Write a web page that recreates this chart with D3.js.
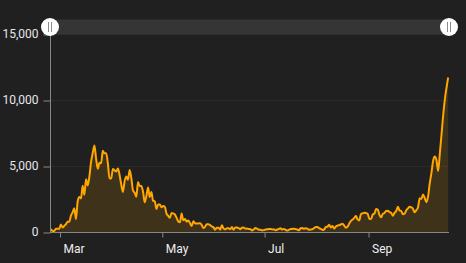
<!DOCTYPE html>
<html>
<head>
<meta charset="utf-8">
<script src="https://cdn.jsdelivr.net/npm/d3@7"></script>
<style>
  html, body { margin: 0; padding: 0; background: #202020; }
  svg { display: block; }
</style>
</head>
<body>
<svg id="chart" width="466" height="263"></svg>
<script>
// ---- data ----
const startDate = "2020-02-24";
const dailyCases = [
  221, 93, 78, 250, 238, 240,
  566, 342, 466, 587, 769, 778, 1247, 1492, 1797, 977, 2313, 2651, 2547, 3497, 2823, 4000,
  3526, 4207, 5322, 5986, 6557, 5560, 4789, 5249, 5210, 6153, 5959, 5974, 5217, 4050, 4053,
  4782, 4668, 4585, 4805, 4316, 3599, 3039, 3836, 4204, 3951, 4694, 4092, 3153, 2972, 2667,
  3786, 3493, 3491, 3047, 2256, 2729, 3370, 2646, 3021, 2357, 2324, 1739, 2091, 2086, 1872,
  1965, 1900, 1389, 1221, 1075, 1444, 1401, 1327, 1083, 802, 744, 1402, 888, 992, 789, 875,
  675, 451, 813, 665, 642, 652, 669, 531, 300, 397, 584, 593, 516, 416, 355,
  178, 318, 321, 177, 518, 270, 197, 280, 283, 202, 379, 163, 346, 338, 301, 210, 329, 333,
  251, 262, 224, 218, 122, 190, 296, 259, 175, 174, 126, 142,
  187, 201, 223, 235, 192, 208, 138, 193, 229, 276, 188, 234, 169, 114, 162, 230, 233, 249,
  218, 190, 129, 282, 306, 252, 275, 255, 170, 181, 212, 289, 386,
  379, 295, 239, 159, 190, 384, 402, 552, 347, 463, 259, 412, 481, 523, 574, 629, 479, 320,
  403, 642, 845, 947, 1071, 1210, 953, 876, 1367, 1411, 1460, 1444, 1365,
  996, 978, 1326, 1397, 1733, 1695, 1297, 1108, 1370, 1434, 1597, 1616, 1501, 1458, 1229,
  1452, 1585, 1907, 1638, 1587, 1350, 1392, 1640, 1786, 1912, 1869, 1766, 1494, 1648, 1851,
  2548, 2499, 2844, 2578, 2257, 2677, 3678, 4458, 5372, 5724, 5456, 4619, 5901, 7332, 8804,
  10010, 10925, 11705
];
const yTickValues = [0, 5000, 10000, 15000];
const xTickDates = ["2020-03-01", "2020-05-01", "2020-07-01", "2020-09-01"];
const yMax = 15000;

// ---- build ----
const parse = d3.timeParse("%Y-%m-%d");
const start = parse(startDate);
const data = dailyCases.map((v, i) => ({
  date: d3.timeHour.offset(d3.timeDay.offset(start, i), 12),
  value: v
}));

const svg = d3.select("#chart");
const plotLeft = 50, plotRight = 449, plotTop = 34, plotBottom = 232;

const x = d3.scaleTime()
  .domain([start, d3.timeDay.offset(start, dailyCases.length)])
  .range([plotLeft, plotRight]);
const y = d3.scaleLinear().domain([0, yMax]).range([plotBottom, plotTop]);

const fontFamily = "Roboto, 'Open Sans', sans-serif";

// grid
svg.append("g")
  .selectAll("line")
  .data(yTickValues.filter(d => d > 0))
  .join("line")
  .attr("x1", plotLeft).attr("x2", plotRight)
  .attr("y1", d => y(d) + 0.5).attr("y2", d => y(d) + 0.5)
  .attr("stroke", "#ffffff").attr("stroke-opacity", 0.05);

// area + line
const area = d3.area()
  .x(d => x(d.date))
  .y0(y(0))
  .y1(d => y(d.value))
  .curve(d3.curveMonotoneX);
const line = d3.line()
  .x(d => x(d.date))
  .y(d => y(d.value))
  .curve(d3.curveMonotoneX);

svg.append("path").datum(data)
  .attr("d", area)
  .attr("fill", "#ffa500").attr("fill-opacity", 0.14);
svg.append("path").datum(data)
  .attr("d", line)
  .attr("fill", "none")
  .attr("stroke", "#ffa600")
  .attr("stroke-width", 2)
  .attr("stroke-linejoin", "round");

// y axis
const yAxis = d3.axisLeft(y)
  .tickValues(yTickValues)
  .tickSize(7)
  .tickPadding(5)
  .tickFormat(d3.format(","));
const gy = svg.append("g")
  .attr("transform", `translate(${plotLeft + 0.5},0)`)
  .call(yAxis);
gy.select(".domain").remove();
gy.selectAll(".tick line").attr("stroke", "#888888").attr("transform", "translate(0,0.5)");
gy.selectAll("text")
  .attr("fill", "#e4e8ee")
  .style("font-family", fontFamily)
  .style("font-size", "12px");
svg.append("line")
  .attr("x1", plotLeft + 0.5).attr("x2", plotLeft + 0.5)
  .attr("y1", plotTop).attr("y2", plotBottom)
  .attr("stroke", "#888888");

// x axis
const xAxis = d3.axisBottom(x)
  .tickValues(xTickDates.map(parse))
  .tickSize(5)
  .tickPadding(7)
  .tickFormat(d3.timeFormat("%b"));
const gx = svg.append("g")
  .attr("transform", `translate(0,${plotBottom + 0.5})`)
  .call(xAxis);
gx.select(".domain").remove();
gx.selectAll(".tick line").attr("stroke", "#888888");
gx.selectAll("text")
  .attr("fill", "#eeeeee")
  .attr("text-anchor", "start")
  .attr("dx", 3)
  .style("font-family", fontFamily)
  .style("font-size", "12px");
svg.append("line")
  .attr("x1", plotLeft).attr("x2", plotRight)
  .attr("y1", plotBottom + 0.5).attr("y2", plotBottom + 0.5)
  .attr("stroke", "#888888");

// scrollbar
const sbY = 27;
svg.append("rect")
  .attr("x", plotLeft).attr("y", sbY - 7.5)
  .attr("width", plotRight - plotLeft).attr("height", 15)
  .attr("fill", "#353535");
const grips = svg.append("g")
  .selectAll("g")
  .data(x.domain())
  .join("g")
  .attr("transform", d => `translate(${x(d)},${sbY})`);
grips.append("circle").attr("r", 9).attr("fill", "#ffffff");
grips.selectAll("line")
  .data([-1.5, 1.5])
  .join("line")
  .attr("x1", d => d).attr("x2", d => d)
  .attr("y1", -5).attr("y2", 5)
  .attr("stroke", "#8c8c8c").attr("stroke-width", 1);
</script>
</body>
</html>
